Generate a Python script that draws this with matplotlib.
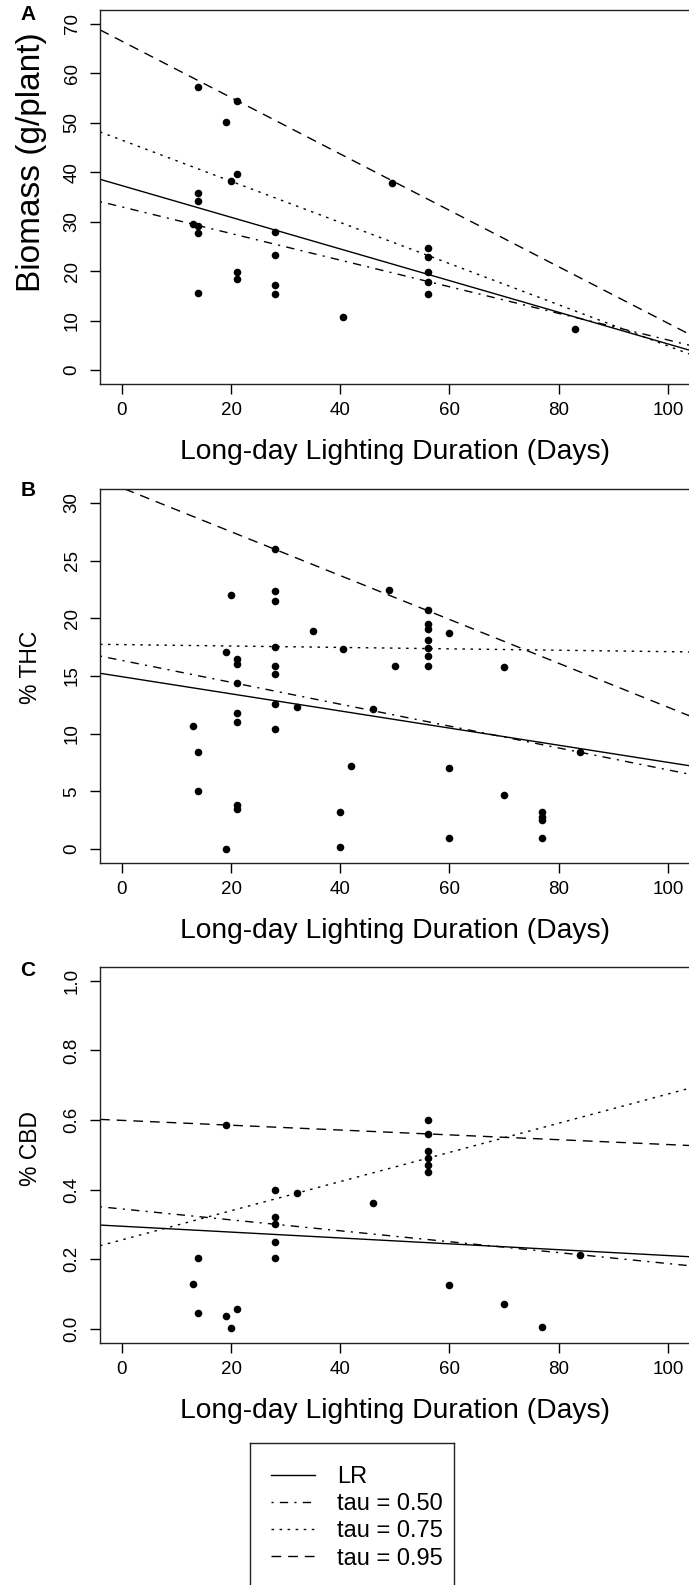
import matplotlib
matplotlib.use('Agg')
import matplotlib.pyplot as plt
from matplotlib.lines import Line2D
import numpy as np

plt.rcParams['font.family'] = ['Liberation Sans', 'DejaVu Sans']

W, H = 689, 1585  # figure size in px (dpi 100)

# ---- data ----
a_days = [14, 21, 19, 21, 20, 14, 14, 13, 14, 14, 28, 28, 21, 21, 28, 28, 14, 40.5,
          49.5, 56, 56, 56, 56, 56, 83]
a_biomass = [57.2, 54.4, 50.1, 39.6, 38.3, 35.8, 34.1, 29.6, 29.2, 27.7, 27.9, 23.3, 19.8,
             18.5, 17.3, 15.4, 15.6, 10.8, 37.9, 24.6, 22.9, 19.9, 17.9, 15.3, 8.4]

b_days = [28, 20, 28, 28, 35, 19, 28, 40.5, 21, 21, 28, 28, 21, 28, 32, 46, 21, 21, 13, 28,
          14, 42, 14, 21, 21, 40, 19, 40, 49, 56, 56, 56, 56, 56, 56, 56, 60, 50, 70, 84,
          60, 70, 77, 77, 77, 77, 60]
b_thc = [26.0, 22.0, 22.4, 21.5, 18.9, 17.05, 17.5, 17.3, 16.5, 16.0, 15.9, 15.2, 14.4, 12.6,
         12.3, 12.1, 11.8, 11.0, 10.7, 10.4, 8.4, 7.2, 5.0, 3.8, 3.5, 3.25, 0.05, 0.15, 22.45,
         20.7, 19.5, 19.1, 18.1, 17.4, 16.7, 15.9, 18.7, 15.9, 15.8, 8.4, 7.0, 4.7, 3.2, 2.8,
         2.5, 0.95, 0.95]

c_days = [19, 28, 32, 46, 28, 28, 28, 28, 14, 13, 14, 21, 19, 20, 56, 56, 56, 56, 56, 56,
          60, 70, 77, 84]
c_cbd = [0.585, 0.40, 0.39, 0.361, 0.322, 0.301, 0.25, 0.202, 0.202, 0.128, 0.046, 0.057,
         0.036, 0.002, 0.60, 0.56, 0.511, 0.49, 0.471, 0.45, 0.126, 0.072, 0.006, 0.212]

# fitted lines (intercept, slope): LR, tau 0.50, tau 0.75, tau 0.95
a_fits = [(37.3, -0.320), (33.0, -0.269), (46.5, -0.416), (66.5, -0.57)]
b_fits = [(14.94, -0.0742), (16.35, -0.0948), (17.72, -0.0061), (31.3, -0.19)]
c_fits = [(0.2946, -0.000843), (0.3443, -0.00157), (0.2553, 0.004194), (0.599, -0.000695)]

fit_labels = ['LR', 'tau = 0.50', 'tau = 0.75', 'tau = 0.95']
x_ticks = [0, 20, 40, 60, 80, 100]

styles = ['-', (0, (1.5, 4.5, 6, 4.5)), (0, (1.8, 4)), (0, (7, 5))]


def box(left, top, right, bottom):
    return [left / W, 1 - bottom / H, (right - left) / W, (bottom - top) / H]


def panel(ax, days, vals, fits, ylim, yticks, ylabels):
    ax.scatter(days, vals, s=30, c='black', linewidths=0, zorder=3)
    for (b, m), st in zip(fits, styles):
        ax.axline((0, b), slope=m, color='black', lw=1.0, linestyle=st)
    ax.set_xlim(-4, 104)
    pad = 0.04 * (ylim[1] - ylim[0])
    ax.set_ylim(ylim[0] - pad, ylim[1] + pad)
    ax.set_xticks(x_ticks)
    ax.set_xticklabels([str(t) for t in x_ticks])
    ax.set_yticks(yticks)
    ax.set_yticklabels(ylabels, rotation=90, va='center')
    ax.tick_params(axis='both', length=7, width=1, labelsize=13.5, color='black')
    ax.tick_params(axis='x', pad=6)
    ax.tick_params(axis='y', pad=7)
    for s in ax.spines.values():
        s.set_linewidth(1.0)
        s.set_color('#222222')


fig = plt.figure(figsize=(W / 100, H / 100), dpi=100)

panels = [
    (box(100, 10, 689.7, 384), a_days, a_biomass, a_fits, (0, 70), list(range(0, 71, 10)),
     'Biomass (g/plant)', 24, 40, 'A', 162, 459, 15),
    (box(100, 489, 689.7, 863), b_days, b_thc, b_fits, (0, 30), list(range(0, 31, 5)),
     '% THC', 16.5, 37, 'B', 667, 938, 490),
    (box(100, 967, 689.7, 1342.6), c_days, c_cbd, c_fits, (0, 1), list(np.arange(0, 1.01, 0.2)),
     '% CBD', 16.5, 37, 'C', 1148, 1417.6, 970),
]

for rect, d, v, fits, ylim, yt, ylab, ylab_size, ylab_x, letter, ylab_y, xlab_y, let_y in panels:
    ax = fig.add_axes(rect)
    if ylim[1] == 1:
        labs = ['%.1f' % t for t in yt]
    else:
        labs = [str(t) for t in yt]
    panel(ax, d, v, fits, ylim, yt, labs)
    fig.text(395 / W, 1 - xlab_y / H, 'Long-day Lighting Duration (Days)', fontsize=20.3,
             ha='center', va='baseline')
    fig.text(ylab_x / W, 1 - ylab_y / H, ylab, fontsize=ylab_size, rotation=90, ha='center',
             va='baseline', rotation_mode='anchor')
    fig.text(28 / W, 1 - let_y / H, letter, fontsize=15, fontweight='bold',
             ha='center', va='center')

# legend box
lax = fig.add_axes(box(250, 1443, 454, 1590))
lax.set_xticks([])
lax.set_yticks([])
for s in lax.spines.values():
    s.set_linewidth(1.0)
    s.set_color('#222222')
handles = [Line2D([], [], color='black', lw=1.0, linestyle=st) for st in styles]
lax.legend(handles, fit_labels, loc='upper left', bbox_to_anchor=(271 / W, 1 - 1466 / H),
           bbox_transform=fig.transFigure, frameon=False, fontsize=17, borderpad=0,
           borderaxespad=0, handlelength=1.86, handletextpad=0.93, labelspacing=0.22)

fig.savefig('out.png', dpi=100)
